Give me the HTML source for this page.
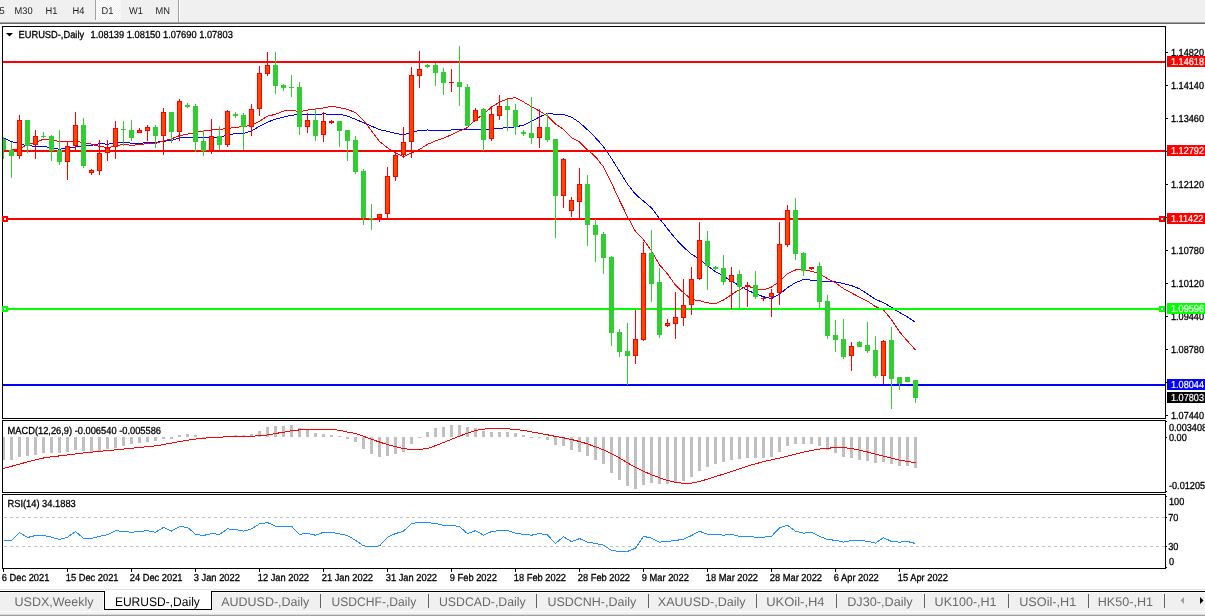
<!DOCTYPE html>
<html><head><meta charset="utf-8"><title>EURUSD-,Daily</title>
<style>
html,body{margin:0;padding:0;background:#fff;}
body{width:1205px;height:616px;overflow:hidden;}
svg{display:block;}
text{font-family:"Liberation Sans", Arial, sans-serif;white-space:pre;text-rendering:geometricPrecision;}
</style></head><body>
<svg width="1205" height="616" viewBox="0 0 1205 616">
<rect width="1205" height="616" fill="#fff"/>
<rect x="0" y="0" width="1205" height="22" fill="#f0f0f0" />
<rect x="0" y="22" width="1205" height="1" fill="#a0a0a0" />
<rect x="0" y="23" width="1205" height="1" fill="#696969" />
<rect x="96" y="0" width="25" height="20" fill="url(#chk)" />
<rect x="95" y="0" width="1" height="20" fill="#a0a0a0" />
<rect x="178" y="0" width="1" height="22" fill="#a0a0a0" />
<rect x="179" y="0" width="1" height="22" fill="#ffffff" />
<text x="-0.6" y="13.7" font-size="9.8" fill="#1e1e1e" textLength="5.17" lengthAdjust="spacingAndGlyphs" class="tb">5</text>
<text x="14.5" y="13.7" font-size="9.8" fill="#1e1e1e" textLength="18.09" lengthAdjust="spacingAndGlyphs" class="tb">M30</text>
<text x="45.5" y="13.7" font-size="9.8" fill="#1e1e1e" textLength="11.89" lengthAdjust="spacingAndGlyphs" class="tb">H1</text>
<text x="72.5" y="13.7" font-size="9.8" fill="#1e1e1e" textLength="11.89" lengthAdjust="spacingAndGlyphs" class="tb">H4</text>
<text x="101.5" y="13.7" font-size="9.8" fill="#1e1e1e" textLength="11.89" lengthAdjust="spacingAndGlyphs" class="tb">D1</text>
<text x="129" y="13.7" font-size="9.8" fill="#1e1e1e" textLength="13.95" lengthAdjust="spacingAndGlyphs" class="tb">W1</text>
<text x="155.5" y="13.7" font-size="9.8" fill="#1e1e1e" textLength="14.46" lengthAdjust="spacingAndGlyphs" class="tb">MN</text>
<rect x="2" y="26" width="1164" height="1" fill="#000" />
<rect x="2" y="418" width="1164" height="1" fill="#000" />
<rect x="2" y="26" width="1" height="393" fill="#000" />
<rect x="1165" y="26" width="1" height="393" fill="#000" />
<rect x="2" y="420" width="1164" height="1" fill="#000" />
<rect x="2" y="492" width="1164" height="1" fill="#000" />
<rect x="2" y="420" width="1" height="73" fill="#000" />
<rect x="1165" y="420" width="1" height="73" fill="#000" />
<rect x="2" y="494" width="1164" height="1" fill="#000" />
<rect x="2" y="568" width="1164" height="1" fill="#000" />
<rect x="2" y="494" width="1" height="75" fill="#000" />
<rect x="1165" y="494" width="1" height="75" fill="#000" />
<defs><pattern id="chk" width="2" height="2" patternUnits="userSpaceOnUse"><rect width="2" height="2" fill="#f0f0f0"/><rect width="1" height="1" fill="#fff"/><rect x="1" y="1" width="1" height="1" fill="#fff"/></pattern><clipPath id="cm"><rect x="3" y="27" width="1162" height="391"/></clipPath><clipPath id="cd"><rect x="3" y="421" width="1162" height="71"/></clipPath><clipPath id="cr"><rect x="3" y="495" width="1162" height="73"/></clipPath></defs>
<g clip-path="url(#cm)">
<polyline points="3.5,137.8 11.5,141.6 19.5,143.6 27.5,145.9 35.5,146.1 43.5,146.3 51.5,147.8 59.5,149.2 67.5,148.2 75.5,147.0 83.5,146.4 91.5,145.3 99.5,143.6 107.5,144.2 115.5,142.8 123.5,142.4 131.5,143.2 139.5,143.4 147.5,142.5 155.5,142.4 163.5,141.3 171.5,140.5 179.5,137.9 187.5,137.2 195.5,137.0 203.5,137.7 211.5,137.7 219.5,137.4 227.5,135.0 235.5,133.5 243.5,133.6 251.5,130.9 259.5,126.3 267.5,122.1 275.5,119.1 283.5,117.2 291.5,115.2 299.5,114.6 307.5,114.2 315.5,114.5 323.5,113.9 331.5,114.3 339.5,114.3 347.5,116.1 355.5,119.2 363.5,122.8 371.5,126.1 379.5,129.8 387.5,131.3 395.5,133.4 403.5,134.7 411.5,132.3 419.5,130.4 427.5,130.0 435.5,130.4 443.5,130.2 451.5,130.0 459.5,129.9 467.5,129.9 475.5,129.4 483.5,129.6 491.5,129.3 499.5,128.5 507.5,127.5 515.5,126.9 523.5,125.1 531.5,121.3 539.5,116.9 547.5,113.4 555.5,114.3 563.5,114.5 571.5,117.2 579.5,122.4 587.5,129.8 595.5,137.8 603.5,146.6 611.5,158.5 619.5,171.3 627.5,184.1 635.5,194.3 643.5,201.1 651.5,208.0 659.5,218.5 667.5,228.8 675.5,238.7 683.5,247.2 691.5,254.2 699.5,259.1 707.5,265.6 715.5,271.8 723.5,275.9 731.5,281.4 739.5,285.5 747.5,290.3 755.5,293.7 763.5,296.8 771.5,298.5 779.5,294.3 787.5,287.6 795.5,282.7 803.5,279.5 811.5,280.1 819.5,281.0 827.5,281.0 835.5,281.8 843.5,283.6 851.5,285.6 859.5,288.8 867.5,294.0 875.5,299.3 883.5,302.7 891.5,307.4 899.5,312.5 907.5,317.0 915.5,322.4" fill="none" stroke="#0000ff" stroke-width="1" shape-rendering="crispEdges"/>
<polyline points="3.5,150.0 11.5,150.0 19.5,149.0 27.5,144.5 35.5,142.4 43.5,139.2 51.5,139.9 59.5,141.4 67.5,141.4 75.5,141.4 83.5,142.4 91.5,144.2 99.5,146.4 107.5,147.6 115.5,146.1 123.5,144.2 131.5,145.4 139.5,144.4 147.5,143.7 155.5,143.6 163.5,140.9 171.5,138.8 179.5,135.6 187.5,134.2 195.5,132.5 203.5,131.1 211.5,129.9 219.5,129.6 227.5,128.4 235.5,127.4 243.5,126.6 251.5,125.1 259.5,121.2 267.5,116.2 275.5,114.3 283.5,111.1 291.5,110.1 299.5,111.6 307.5,110.1 315.5,109.0 323.5,107.9 331.5,106.3 339.5,107.6 347.5,109.4 355.5,112.6 363.5,120.4 371.5,130.7 379.5,141.4 387.5,147.9 395.5,152.7 403.5,156.6 411.5,153.0 419.5,149.4 427.5,144.4 435.5,140.9 443.5,138.1 451.5,134.7 459.5,130.9 467.5,127.6 475.5,119.9 483.5,114.3 491.5,107.1 499.5,102.1 507.5,98.9 515.5,97.7 523.5,101.9 531.5,106.7 539.5,111.1 547.5,115.9 555.5,123.9 563.5,129.4 571.5,137.6 579.5,141.8 587.5,149.9 595.5,156.7 603.5,166.9 611.5,183.1 619.5,200.4 627.5,216.7 635.5,231.4 643.5,239.7 651.5,250.9 659.5,264.8 667.5,273.9 675.5,285.2 683.5,292.7 691.5,299.5 699.5,300.6 707.5,302.9 715.5,303.6 723.5,300.0 731.5,294.6 739.5,289.6 747.5,285.8 755.5,288.9 763.5,289.9 771.5,287.0 779.5,281.4 787.5,273.7 795.5,270.0 803.5,269.4 811.5,271.3 819.5,273.9 827.5,278.6 835.5,282.8 843.5,288.6 851.5,292.9 859.5,297.2 867.5,301.1 875.5,306.6 883.5,310.0 891.5,319.6 899.5,331.9 907.5,341.1 915.5,350.1" fill="none" stroke="#ff0000" stroke-width="1" shape-rendering="crispEdges"/>
<rect x="3" y="61" width="1162" height="2" fill="#ff0000" />
<rect x="3" y="150" width="1162" height="2" fill="#ff0000" />
<rect x="3" y="218" width="1162" height="2" fill="#ff0000" />
<rect x="3" y="308" width="1162" height="2" fill="#00ff00" />
<rect x="3" y="384" width="1162" height="2" fill="#0000ff" />
<rect x="3" y="137" width="1" height="22" fill="#32cd32" />
<rect x="1" y="139" width="5" height="11" fill="#32cd32" />
<rect x="11" y="142" width="1" height="36" fill="#32cd32" />
<rect x="9" y="150" width="5" height="6" fill="#32cd32" />
<rect x="19" y="115" width="1" height="44" fill="#ff0000" />
<rect x="17" y="120" width="5" height="36" fill="#ff0000" />
<rect x="18" y="121" width="3" height="34" fill="#ff4500" />
<rect x="27" y="120" width="1" height="33" fill="#32cd32" />
<rect x="25" y="120" width="5" height="26" fill="#32cd32" />
<rect x="35" y="130" width="1" height="29" fill="#ff0000" />
<rect x="33" y="136" width="5" height="9" fill="#ff0000" />
<rect x="34" y="137" width="3" height="7" fill="#ff4500" />
<rect x="43" y="132" width="1" height="6" fill="#32cd32" />
<rect x="41" y="136" width="5" height="1" fill="#32cd32" />
<rect x="51" y="135" width="1" height="26" fill="#32cd32" />
<rect x="49" y="136" width="5" height="15" fill="#32cd32" />
<rect x="59" y="130" width="1" height="35" fill="#32cd32" />
<rect x="57" y="150" width="5" height="12" fill="#32cd32" />
<rect x="67" y="142" width="1" height="38" fill="#ff0000" />
<rect x="65" y="146" width="5" height="16" fill="#ff0000" />
<rect x="66" y="147" width="3" height="14" fill="#ff4500" />
<rect x="75" y="112" width="1" height="38" fill="#ff0000" />
<rect x="73" y="125" width="5" height="21" fill="#ff0000" />
<rect x="74" y="126" width="3" height="19" fill="#ff4500" />
<rect x="83" y="118" width="1" height="50" fill="#32cd32" />
<rect x="81" y="125" width="5" height="41" fill="#32cd32" />
<rect x="91" y="169" width="1" height="6" fill="#ff0000" />
<rect x="89" y="170" width="5" height="3" fill="#ff0000" />
<rect x="90" y="171" width="3" height="1" fill="#ff4500" />
<rect x="99" y="140" width="1" height="35" fill="#ff0000" />
<rect x="97" y="153" width="5" height="18" fill="#ff0000" />
<rect x="98" y="154" width="3" height="16" fill="#ff4500" />
<rect x="107" y="140" width="1" height="21" fill="#ff0000" />
<rect x="105" y="148" width="5" height="5" fill="#ff0000" />
<rect x="106" y="149" width="3" height="3" fill="#ff4500" />
<rect x="115" y="121" width="1" height="38" fill="#ff0000" />
<rect x="113" y="128" width="5" height="19" fill="#ff0000" />
<rect x="114" y="129" width="3" height="17" fill="#ff4500" />
<rect x="123" y="121" width="1" height="25" fill="#32cd32" />
<rect x="121" y="129" width="5" height="1" fill="#32cd32" />
<rect x="131" y="120" width="1" height="21" fill="#32cd32" />
<rect x="129" y="130" width="5" height="8" fill="#32cd32" />
<rect x="139" y="128" width="1" height="5" fill="#ff0000" />
<rect x="137" y="130" width="5" height="3" fill="#ff0000" />
<rect x="138" y="131" width="3" height="1" fill="#ff4500" />
<rect x="147" y="125" width="1" height="16" fill="#ff0000" />
<rect x="145" y="127" width="5" height="4" fill="#ff0000" />
<rect x="146" y="128" width="3" height="2" fill="#ff4500" />
<rect x="155" y="125" width="1" height="23" fill="#32cd32" />
<rect x="153" y="127" width="5" height="9" fill="#32cd32" />
<rect x="163" y="108" width="1" height="47" fill="#ff0000" />
<rect x="161" y="112" width="5" height="24" fill="#ff0000" />
<rect x="162" y="113" width="3" height="22" fill="#ff4500" />
<rect x="171" y="112" width="1" height="31" fill="#32cd32" />
<rect x="169" y="112" width="5" height="20" fill="#32cd32" />
<rect x="179" y="99" width="1" height="42" fill="#ff0000" />
<rect x="177" y="101" width="5" height="31" fill="#ff0000" />
<rect x="178" y="102" width="3" height="29" fill="#ff4500" />
<rect x="187" y="103" width="1" height="5" fill="#32cd32" />
<rect x="185" y="105" width="5" height="2" fill="#32cd32" />
<rect x="195" y="104" width="1" height="48" fill="#32cd32" />
<rect x="193" y="106" width="5" height="36" fill="#32cd32" />
<rect x="203" y="130" width="1" height="26" fill="#32cd32" />
<rect x="201" y="141" width="5" height="10" fill="#32cd32" />
<rect x="211" y="119" width="1" height="35" fill="#ff0000" />
<rect x="209" y="136" width="5" height="15" fill="#ff0000" />
<rect x="210" y="137" width="3" height="13" fill="#ff4500" />
<rect x="219" y="126" width="1" height="24" fill="#32cd32" />
<rect x="217" y="136" width="5" height="9" fill="#32cd32" />
<rect x="227" y="110" width="1" height="37" fill="#ff0000" />
<rect x="225" y="111" width="5" height="34" fill="#ff0000" />
<rect x="226" y="112" width="3" height="32" fill="#ff4500" />
<rect x="235" y="112" width="1" height="6" fill="#32cd32" />
<rect x="233" y="114" width="5" height="2" fill="#32cd32" />
<rect x="243" y="113" width="1" height="37" fill="#32cd32" />
<rect x="241" y="115" width="5" height="12" fill="#32cd32" />
<rect x="251" y="104" width="1" height="32" fill="#ff0000" />
<rect x="249" y="109" width="5" height="18" fill="#ff0000" />
<rect x="250" y="110" width="3" height="16" fill="#ff4500" />
<rect x="259" y="66" width="1" height="50" fill="#ff0000" />
<rect x="257" y="73" width="5" height="36" fill="#ff0000" />
<rect x="258" y="74" width="3" height="34" fill="#ff4500" />
<rect x="267" y="52" width="1" height="24" fill="#ff0000" />
<rect x="265" y="65" width="5" height="9" fill="#ff0000" />
<rect x="266" y="66" width="3" height="7" fill="#ff4500" />
<rect x="275" y="52" width="1" height="42" fill="#32cd32" />
<rect x="273" y="65" width="5" height="21" fill="#32cd32" />
<rect x="283" y="84" width="1" height="7" fill="#32cd32" />
<rect x="281" y="85" width="5" height="3" fill="#32cd32" />
<rect x="291" y="75" width="1" height="22" fill="#32cd32" />
<rect x="289" y="87" width="5" height="1" fill="#32cd32" />
<rect x="299" y="82" width="1" height="53" fill="#32cd32" />
<rect x="297" y="87" width="5" height="40" fill="#32cd32" />
<rect x="307" y="113" width="1" height="20" fill="#ff0000" />
<rect x="305" y="120" width="5" height="7" fill="#ff0000" />
<rect x="306" y="121" width="3" height="5" fill="#ff4500" />
<rect x="315" y="108" width="1" height="33" fill="#32cd32" />
<rect x="313" y="120" width="5" height="16" fill="#32cd32" />
<rect x="323" y="112" width="1" height="30" fill="#ff0000" />
<rect x="321" y="121" width="5" height="14" fill="#ff0000" />
<rect x="322" y="122" width="3" height="12" fill="#ff4500" />
<rect x="331" y="120" width="1" height="4" fill="#ff0000" />
<rect x="329" y="121" width="5" height="2" fill="#ff0000" />
<rect x="339" y="121" width="1" height="26" fill="#32cd32" />
<rect x="337" y="121" width="5" height="10" fill="#32cd32" />
<rect x="347" y="130" width="1" height="31" fill="#32cd32" />
<rect x="345" y="130" width="5" height="11" fill="#32cd32" />
<rect x="355" y="136" width="1" height="38" fill="#32cd32" />
<rect x="353" y="140" width="5" height="32" fill="#32cd32" />
<rect x="363" y="169" width="1" height="56" fill="#32cd32" />
<rect x="361" y="171" width="5" height="47" fill="#32cd32" />
<rect x="371" y="204" width="1" height="26" fill="#32cd32" />
<rect x="369" y="218" width="5" height="1" fill="#32cd32" />
<rect x="379" y="214" width="1" height="8" fill="#ff0000" />
<rect x="377" y="214" width="5" height="4" fill="#ff0000" />
<rect x="378" y="215" width="3" height="2" fill="#ff4500" />
<rect x="387" y="167" width="1" height="51" fill="#ff0000" />
<rect x="385" y="176" width="5" height="38" fill="#ff0000" />
<rect x="386" y="177" width="3" height="36" fill="#ff4500" />
<rect x="395" y="150" width="1" height="31" fill="#ff0000" />
<rect x="393" y="155" width="5" height="22" fill="#ff0000" />
<rect x="394" y="156" width="3" height="20" fill="#ff4500" />
<rect x="403" y="127" width="1" height="31" fill="#ff0000" />
<rect x="401" y="142" width="5" height="13" fill="#ff0000" />
<rect x="402" y="143" width="3" height="11" fill="#ff4500" />
<rect x="411" y="67" width="1" height="91" fill="#ff0000" />
<rect x="409" y="75" width="5" height="67" fill="#ff0000" />
<rect x="410" y="76" width="3" height="65" fill="#ff4500" />
<rect x="419" y="51" width="1" height="37" fill="#ff0000" />
<rect x="417" y="69" width="5" height="7" fill="#ff0000" />
<rect x="418" y="70" width="3" height="5" fill="#ff4500" />
<rect x="427" y="64" width="1" height="4" fill="#32cd32" />
<rect x="425" y="65" width="5" height="2" fill="#32cd32" />
<rect x="435" y="63" width="1" height="23" fill="#32cd32" />
<rect x="433" y="65" width="5" height="8" fill="#32cd32" />
<rect x="443" y="68" width="1" height="27" fill="#32cd32" />
<rect x="441" y="72" width="5" height="11" fill="#32cd32" />
<rect x="451" y="69" width="1" height="23" fill="#ff0000" />
<rect x="449" y="82" width="5" height="1" fill="#ff0000" />
<rect x="459" y="46" width="1" height="60" fill="#32cd32" />
<rect x="457" y="82" width="5" height="5" fill="#32cd32" />
<rect x="467" y="84" width="1" height="42" fill="#32cd32" />
<rect x="465" y="87" width="5" height="39" fill="#32cd32" />
<rect x="475" y="108" width="1" height="13" fill="#ff0000" />
<rect x="473" y="110" width="5" height="11" fill="#ff0000" />
<rect x="474" y="111" width="3" height="9" fill="#ff4500" />
<rect x="483" y="108" width="1" height="43" fill="#32cd32" />
<rect x="481" y="109" width="5" height="31" fill="#32cd32" />
<rect x="491" y="107" width="1" height="34" fill="#ff0000" />
<rect x="489" y="114" width="5" height="25" fill="#ff0000" />
<rect x="490" y="115" width="3" height="23" fill="#ff4500" />
<rect x="499" y="95" width="1" height="25" fill="#ff0000" />
<rect x="497" y="106" width="5" height="10" fill="#ff0000" />
<rect x="498" y="107" width="3" height="8" fill="#ff4500" />
<rect x="507" y="99" width="1" height="32" fill="#32cd32" />
<rect x="505" y="106" width="5" height="4" fill="#32cd32" />
<rect x="515" y="104" width="1" height="31" fill="#32cd32" />
<rect x="513" y="110" width="5" height="17" fill="#32cd32" />
<rect x="523" y="130" width="1" height="6" fill="#32cd32" />
<rect x="521" y="132" width="5" height="2" fill="#32cd32" />
<rect x="531" y="97" width="1" height="47" fill="#32cd32" />
<rect x="529" y="133" width="5" height="5" fill="#32cd32" />
<rect x="539" y="109" width="1" height="39" fill="#ff0000" />
<rect x="537" y="127" width="5" height="11" fill="#ff0000" />
<rect x="538" y="128" width="3" height="9" fill="#ff4500" />
<rect x="547" y="113" width="1" height="29" fill="#32cd32" />
<rect x="545" y="127" width="5" height="13" fill="#32cd32" />
<rect x="555" y="139" width="1" height="99" fill="#32cd32" />
<rect x="553" y="139" width="5" height="57" fill="#32cd32" />
<rect x="563" y="158" width="1" height="50" fill="#ff0000" />
<rect x="561" y="159" width="5" height="37" fill="#ff0000" />
<rect x="562" y="160" width="3" height="35" fill="#ff4500" />
<rect x="571" y="197" width="1" height="20" fill="#ff0000" />
<rect x="569" y="200" width="5" height="11" fill="#ff0000" />
<rect x="570" y="201" width="3" height="9" fill="#ff4500" />
<rect x="579" y="168" width="1" height="50" fill="#ff0000" />
<rect x="577" y="184" width="5" height="18" fill="#ff0000" />
<rect x="578" y="185" width="3" height="16" fill="#ff4500" />
<rect x="587" y="175" width="1" height="71" fill="#32cd32" />
<rect x="585" y="184" width="5" height="41" fill="#32cd32" />
<rect x="595" y="219" width="1" height="43" fill="#32cd32" />
<rect x="593" y="225" width="5" height="10" fill="#32cd32" />
<rect x="603" y="232" width="1" height="42" fill="#32cd32" />
<rect x="601" y="234" width="5" height="24" fill="#32cd32" />
<rect x="611" y="256" width="1" height="90" fill="#32cd32" />
<rect x="609" y="257" width="5" height="76" fill="#32cd32" />
<rect x="619" y="329" width="1" height="28" fill="#32cd32" />
<rect x="617" y="332" width="5" height="20" fill="#32cd32" />
<rect x="627" y="323" width="1" height="62" fill="#32cd32" />
<rect x="625" y="351" width="5" height="5" fill="#32cd32" />
<rect x="635" y="310" width="1" height="54" fill="#ff0000" />
<rect x="633" y="339" width="5" height="17" fill="#ff0000" />
<rect x="634" y="340" width="3" height="15" fill="#ff4500" />
<rect x="643" y="242" width="1" height="99" fill="#ff0000" />
<rect x="641" y="253" width="5" height="87" fill="#ff0000" />
<rect x="642" y="254" width="3" height="85" fill="#ff4500" />
<rect x="651" y="230" width="1" height="72" fill="#32cd32" />
<rect x="649" y="253" width="5" height="31" fill="#32cd32" />
<rect x="659" y="268" width="1" height="70" fill="#32cd32" />
<rect x="657" y="282" width="5" height="53" fill="#32cd32" />
<rect x="667" y="319" width="1" height="8" fill="#ff0000" />
<rect x="665" y="323" width="5" height="3" fill="#ff0000" />
<rect x="666" y="324" width="3" height="1" fill="#ff4500" />
<rect x="675" y="292" width="1" height="47" fill="#ff0000" />
<rect x="673" y="317" width="5" height="7" fill="#ff0000" />
<rect x="674" y="318" width="3" height="5" fill="#ff4500" />
<rect x="683" y="279" width="1" height="47" fill="#ff0000" />
<rect x="681" y="305" width="5" height="13" fill="#ff0000" />
<rect x="682" y="306" width="3" height="11" fill="#ff4500" />
<rect x="691" y="267" width="1" height="48" fill="#ff0000" />
<rect x="689" y="279" width="5" height="26" fill="#ff0000" />
<rect x="690" y="280" width="3" height="24" fill="#ff4500" />
<rect x="699" y="222" width="1" height="58" fill="#ff0000" />
<rect x="697" y="240" width="5" height="39" fill="#ff0000" />
<rect x="698" y="241" width="3" height="37" fill="#ff4500" />
<rect x="707" y="231" width="1" height="59" fill="#32cd32" />
<rect x="705" y="241" width="5" height="25" fill="#32cd32" />
<rect x="715" y="266" width="1" height="4" fill="#32cd32" />
<rect x="713" y="267" width="5" height="2" fill="#32cd32" />
<rect x="723" y="255" width="1" height="30" fill="#32cd32" />
<rect x="721" y="268" width="5" height="14" fill="#32cd32" />
<rect x="731" y="267" width="1" height="42" fill="#ff0000" />
<rect x="729" y="275" width="5" height="7" fill="#ff0000" />
<rect x="730" y="276" width="3" height="5" fill="#ff4500" />
<rect x="739" y="270" width="1" height="38" fill="#32cd32" />
<rect x="737" y="274" width="5" height="13" fill="#32cd32" />
<rect x="747" y="282" width="1" height="25" fill="#ff0000" />
<rect x="745" y="285" width="5" height="1" fill="#ff0000" />
<rect x="755" y="271" width="1" height="28" fill="#32cd32" />
<rect x="753" y="285" width="5" height="12" fill="#32cd32" />
<rect x="763" y="297" width="1" height="4" fill="#ff0000" />
<rect x="761" y="298" width="5" height="1" fill="#ff0000" />
<rect x="771" y="289" width="1" height="28" fill="#ff0000" />
<rect x="769" y="293" width="5" height="4" fill="#ff0000" />
<rect x="770" y="294" width="3" height="2" fill="#ff4500" />
<rect x="779" y="222" width="1" height="83" fill="#ff0000" />
<rect x="777" y="244" width="5" height="49" fill="#ff0000" />
<rect x="778" y="245" width="3" height="47" fill="#ff4500" />
<rect x="787" y="205" width="1" height="42" fill="#ff0000" />
<rect x="785" y="210" width="5" height="35" fill="#ff0000" />
<rect x="786" y="211" width="3" height="33" fill="#ff4500" />
<rect x="795" y="198" width="1" height="62" fill="#32cd32" />
<rect x="793" y="210" width="5" height="44" fill="#32cd32" />
<rect x="803" y="252" width="1" height="24" fill="#32cd32" />
<rect x="801" y="253" width="5" height="18" fill="#32cd32" />
<rect x="811" y="267" width="1" height="3" fill="#ff0000" />
<rect x="809" y="267" width="5" height="2" fill="#ff0000" />
<rect x="819" y="262" width="1" height="46" fill="#32cd32" />
<rect x="817" y="266" width="5" height="36" fill="#32cd32" />
<rect x="827" y="295" width="1" height="44" fill="#32cd32" />
<rect x="825" y="301" width="5" height="35" fill="#32cd32" />
<rect x="835" y="320" width="1" height="32" fill="#32cd32" />
<rect x="833" y="335" width="5" height="5" fill="#32cd32" />
<rect x="843" y="319" width="1" height="40" fill="#32cd32" />
<rect x="841" y="339" width="5" height="18" fill="#32cd32" />
<rect x="851" y="342" width="1" height="29" fill="#ff0000" />
<rect x="849" y="346" width="5" height="10" fill="#ff0000" />
<rect x="850" y="347" width="3" height="8" fill="#ff4500" />
<rect x="859" y="341" width="1" height="6" fill="#32cd32" />
<rect x="857" y="342" width="5" height="5" fill="#32cd32" />
<rect x="867" y="322" width="1" height="31" fill="#32cd32" />
<rect x="865" y="345" width="5" height="6" fill="#32cd32" />
<rect x="875" y="336" width="1" height="42" fill="#32cd32" />
<rect x="873" y="350" width="5" height="26" fill="#32cd32" />
<rect x="883" y="340" width="1" height="44" fill="#ff0000" />
<rect x="881" y="341" width="5" height="35" fill="#ff0000" />
<rect x="882" y="342" width="3" height="33" fill="#ff4500" />
<rect x="891" y="327" width="1" height="82" fill="#32cd32" />
<rect x="889" y="340" width="5" height="39" fill="#32cd32" />
<rect x="899" y="377" width="1" height="13" fill="#32cd32" />
<rect x="897" y="377" width="5" height="7" fill="#32cd32" />
<rect x="907" y="377" width="1" height="5" fill="#32cd32" />
<rect x="905" y="377" width="5" height="5" fill="#32cd32" />
<rect x="915" y="380" width="1" height="23" fill="#32cd32" />
<rect x="913" y="380" width="5" height="18" fill="#32cd32" />
</g>
<rect x="2" y="216" width="6" height="6" fill="#ff0000" />
<rect x="4" y="218" width="2" height="2" fill="#fff" />
<rect x="1159" y="216" width="6" height="6" fill="#ff0000" />
<rect x="1161" y="218" width="2" height="2" fill="#fff" />
<rect x="2" y="306" width="6" height="6" fill="#00ff00" />
<rect x="4" y="308" width="2" height="2" fill="#fff" />
<rect x="1159" y="306" width="6" height="6" fill="#00ff00" />
<rect x="1161" y="308" width="2" height="2" fill="#fff" />
<polygon points="6,33 13,33 9.5,36.5" fill="#000"/>
<text x="18.5" y="38" font-size="10.2" fill="#000" textLength="65.62" lengthAdjust="spacingAndGlyphs" stroke="#000" stroke-width="0.3" class="ch">EURUSD-,Daily</text>
<text x="90.6" y="38" font-size="10.2" fill="#000" textLength="142.21" lengthAdjust="spacingAndGlyphs" stroke="#000" stroke-width="0.3" class="ch">1.08139 1.08150 1.07690 1.07803</text>
<rect x="1166" y="52" width="2" height="1" fill="#000" />
<text x="1171" y="56" font-size="10.2" fill="#000" textLength="33.01" lengthAdjust="spacingAndGlyphs" stroke="#000" stroke-width="0.3" class="ch">1.14820</text>
<rect x="1166" y="85" width="2" height="1" fill="#000" />
<text x="1171" y="89" font-size="10.2" fill="#000" textLength="33.01" lengthAdjust="spacingAndGlyphs" stroke="#000" stroke-width="0.3" class="ch">1.14140</text>
<rect x="1166" y="118" width="2" height="1" fill="#000" />
<text x="1171" y="122" font-size="10.2" fill="#000" textLength="33.01" lengthAdjust="spacingAndGlyphs" stroke="#000" stroke-width="0.3" class="ch">1.13460</text>
<rect x="1166" y="151" width="2" height="1" fill="#000" />
<rect x="1166" y="184" width="2" height="1" fill="#000" />
<text x="1171" y="188" font-size="10.2" fill="#000" textLength="33.01" lengthAdjust="spacingAndGlyphs" stroke="#000" stroke-width="0.3" class="ch">1.12120</text>
<rect x="1166" y="217" width="2" height="1" fill="#000" />
<rect x="1166" y="250" width="2" height="1" fill="#000" />
<text x="1171" y="254" font-size="10.2" fill="#000" textLength="33.01" lengthAdjust="spacingAndGlyphs" stroke="#000" stroke-width="0.3" class="ch">1.10780</text>
<rect x="1166" y="283" width="2" height="1" fill="#000" />
<text x="1171" y="287" font-size="10.2" fill="#000" textLength="33.01" lengthAdjust="spacingAndGlyphs" stroke="#000" stroke-width="0.3" class="ch">1.10120</text>
<rect x="1166" y="316" width="2" height="1" fill="#000" />
<text x="1171" y="320" font-size="10.2" fill="#000" textLength="33.01" lengthAdjust="spacingAndGlyphs" stroke="#000" stroke-width="0.3" class="ch">1.09440</text>
<rect x="1166" y="349" width="2" height="1" fill="#000" />
<text x="1171" y="353" font-size="10.2" fill="#000" textLength="33.01" lengthAdjust="spacingAndGlyphs" stroke="#000" stroke-width="0.3" class="ch">1.08780</text>
<rect x="1166" y="382" width="2" height="1" fill="#000" />
<rect x="1166" y="415" width="2" height="1" fill="#000" />
<text x="1171" y="419" font-size="10.2" fill="#000" textLength="33.01" lengthAdjust="spacingAndGlyphs" stroke="#000" stroke-width="0.3" class="ch">1.07440</text>
<rect x="1167" y="56" width="38" height="11" fill="#ff0000" />
<text x="1171" y="65" font-size="10.2" fill="#fff" textLength="33.01" lengthAdjust="spacingAndGlyphs" stroke="#fff" stroke-width="0.2" class="ch">1.14618</text>
<rect x="1167" y="145" width="38" height="11" fill="#ff0000" />
<text x="1171" y="154" font-size="10.2" fill="#fff" textLength="33.01" lengthAdjust="spacingAndGlyphs" stroke="#fff" stroke-width="0.2" class="ch">1.12792</text>
<rect x="1167" y="213" width="38" height="11" fill="#ff0000" />
<text x="1171" y="222" font-size="10.2" fill="#fff" textLength="32.34" lengthAdjust="spacingAndGlyphs" stroke="#fff" stroke-width="0.2" class="ch">1.11422</text>
<rect x="1167" y="303" width="38" height="11" fill="#00ff00" />
<text x="1171" y="312" font-size="10.2" fill="#fff" textLength="33.01" lengthAdjust="spacingAndGlyphs" stroke="#fff" stroke-width="0.2" class="ch">1.09596</text>
<rect x="1167" y="379" width="38" height="11" fill="#0000ff" />
<text x="1171" y="388" font-size="10.2" fill="#fff" textLength="33.01" lengthAdjust="spacingAndGlyphs" stroke="#fff" stroke-width="0.2" class="ch">1.08044</text>
<rect x="1167" y="392" width="38" height="11" fill="#000000" />
<text x="1171" y="401" font-size="10.2" fill="#fff" textLength="33.01" lengthAdjust="spacingAndGlyphs" stroke="#fff" stroke-width="0.2" class="ch">1.07803</text>
<g clip-path="url(#cd)">
<rect x="2" y="437" width="3" height="23" fill="#c0c0c0" />
<rect x="10" y="437" width="3" height="23" fill="#c0c0c0" />
<rect x="18" y="437" width="3" height="20" fill="#c0c0c0" />
<rect x="26" y="437" width="3" height="19" fill="#c0c0c0" />
<rect x="34" y="437" width="3" height="18" fill="#c0c0c0" />
<rect x="42" y="437" width="3" height="16" fill="#c0c0c0" />
<rect x="50" y="437" width="3" height="16" fill="#c0c0c0" />
<rect x="58" y="437" width="3" height="16" fill="#c0c0c0" />
<rect x="66" y="437" width="3" height="15" fill="#c0c0c0" />
<rect x="74" y="437" width="3" height="13" fill="#c0c0c0" />
<rect x="82" y="437" width="3" height="14" fill="#c0c0c0" />
<rect x="90" y="437" width="3" height="15" fill="#c0c0c0" />
<rect x="98" y="437" width="3" height="14" fill="#c0c0c0" />
<rect x="106" y="437" width="3" height="12" fill="#c0c0c0" />
<rect x="114" y="437" width="3" height="11" fill="#c0c0c0" />
<rect x="122" y="437" width="3" height="9" fill="#c0c0c0" />
<rect x="130" y="437" width="3" height="7" fill="#c0c0c0" />
<rect x="138" y="437" width="3" height="6" fill="#c0c0c0" />
<rect x="146" y="437" width="3" height="5" fill="#c0c0c0" />
<rect x="154" y="437" width="3" height="4" fill="#c0c0c0" />
<rect x="162" y="437" width="3" height="2" fill="#c0c0c0" />
<rect x="170" y="437" width="3" height="2" fill="#c0c0c0" />
<rect x="178" y="435" width="3" height="2" fill="#c0c0c0" />
<rect x="186" y="434" width="3" height="3" fill="#c0c0c0" />
<rect x="194" y="435" width="3" height="2" fill="#c0c0c0" />
<rect x="202" y="437" width="3" height="1" fill="#c0c0c0" />
<rect x="210" y="437" width="3" height="1" fill="#c0c0c0" />
<rect x="218" y="437" width="3" height="1" fill="#c0c0c0" />
<rect x="226" y="436" width="3" height="1" fill="#c0c0c0" />
<rect x="234" y="435" width="3" height="2" fill="#c0c0c0" />
<rect x="242" y="435" width="3" height="2" fill="#c0c0c0" />
<rect x="250" y="434" width="3" height="3" fill="#c0c0c0" />
<rect x="258" y="431" width="3" height="6" fill="#c0c0c0" />
<rect x="266" y="427" width="3" height="10" fill="#c0c0c0" />
<rect x="274" y="426" width="3" height="11" fill="#c0c0c0" />
<rect x="282" y="426" width="3" height="11" fill="#c0c0c0" />
<rect x="290" y="425" width="3" height="12" fill="#c0c0c0" />
<rect x="298" y="428" width="3" height="9" fill="#c0c0c0" />
<rect x="306" y="430" width="3" height="7" fill="#c0c0c0" />
<rect x="314" y="433" width="3" height="4" fill="#c0c0c0" />
<rect x="322" y="434" width="3" height="3" fill="#c0c0c0" />
<rect x="330" y="435" width="3" height="2" fill="#c0c0c0" />
<rect x="338" y="436" width="3" height="1" fill="#c0c0c0" />
<rect x="346" y="437" width="3" height="2" fill="#c0c0c0" />
<rect x="354" y="437" width="3" height="5" fill="#c0c0c0" />
<rect x="362" y="437" width="3" height="12" fill="#c0c0c0" />
<rect x="370" y="437" width="3" height="17" fill="#c0c0c0" />
<rect x="378" y="437" width="3" height="20" fill="#c0c0c0" />
<rect x="386" y="437" width="3" height="19" fill="#c0c0c0" />
<rect x="394" y="437" width="3" height="17" fill="#c0c0c0" />
<rect x="402" y="437" width="3" height="15" fill="#c0c0c0" />
<rect x="410" y="437" width="3" height="7" fill="#c0c0c0" />
<rect x="418" y="437" width="3" height="1" fill="#c0c0c0" />
<rect x="426" y="432" width="3" height="5" fill="#c0c0c0" />
<rect x="434" y="428" width="3" height="9" fill="#c0c0c0" />
<rect x="442" y="427" width="3" height="10" fill="#c0c0c0" />
<rect x="450" y="425" width="3" height="12" fill="#c0c0c0" />
<rect x="458" y="425" width="3" height="12" fill="#c0c0c0" />
<rect x="466" y="427" width="3" height="10" fill="#c0c0c0" />
<rect x="474" y="428" width="3" height="9" fill="#c0c0c0" />
<rect x="482" y="431" width="3" height="6" fill="#c0c0c0" />
<rect x="490" y="432" width="3" height="5" fill="#c0c0c0" />
<rect x="498" y="432" width="3" height="5" fill="#c0c0c0" />
<rect x="506" y="432" width="3" height="5" fill="#c0c0c0" />
<rect x="514" y="433" width="3" height="4" fill="#c0c0c0" />
<rect x="522" y="435" width="3" height="2" fill="#c0c0c0" />
<rect x="530" y="437" width="3" height="1" fill="#c0c0c0" />
<rect x="538" y="437" width="3" height="1" fill="#c0c0c0" />
<rect x="546" y="437" width="3" height="3" fill="#c0c0c0" />
<rect x="554" y="437" width="3" height="8" fill="#c0c0c0" />
<rect x="562" y="437" width="3" height="9" fill="#c0c0c0" />
<rect x="570" y="437" width="3" height="13" fill="#c0c0c0" />
<rect x="578" y="437" width="3" height="15" fill="#c0c0c0" />
<rect x="586" y="437" width="3" height="19" fill="#c0c0c0" />
<rect x="594" y="437" width="3" height="23" fill="#c0c0c0" />
<rect x="602" y="437" width="3" height="27" fill="#c0c0c0" />
<rect x="610" y="437" width="3" height="36" fill="#c0c0c0" />
<rect x="618" y="437" width="3" height="43" fill="#c0c0c0" />
<rect x="626" y="437" width="3" height="49" fill="#c0c0c0" />
<rect x="634" y="437" width="3" height="52" fill="#c0c0c0" />
<rect x="642" y="437" width="3" height="48" fill="#c0c0c0" />
<rect x="650" y="437" width="3" height="46" fill="#c0c0c0" />
<rect x="658" y="437" width="3" height="47" fill="#c0c0c0" />
<rect x="666" y="437" width="3" height="47" fill="#c0c0c0" />
<rect x="674" y="437" width="3" height="45" fill="#c0c0c0" />
<rect x="682" y="437" width="3" height="44" fill="#c0c0c0" />
<rect x="690" y="437" width="3" height="40" fill="#c0c0c0" />
<rect x="698" y="437" width="3" height="34" fill="#c0c0c0" />
<rect x="706" y="437" width="3" height="30" fill="#c0c0c0" />
<rect x="714" y="437" width="3" height="27" fill="#c0c0c0" />
<rect x="722" y="437" width="3" height="25" fill="#c0c0c0" />
<rect x="730" y="437" width="3" height="23" fill="#c0c0c0" />
<rect x="738" y="437" width="3" height="22" fill="#c0c0c0" />
<rect x="746" y="437" width="3" height="21" fill="#c0c0c0" />
<rect x="754" y="437" width="3" height="21" fill="#c0c0c0" />
<rect x="762" y="437" width="3" height="21" fill="#c0c0c0" />
<rect x="770" y="437" width="3" height="20" fill="#c0c0c0" />
<rect x="778" y="437" width="3" height="15" fill="#c0c0c0" />
<rect x="786" y="437" width="3" height="9" fill="#c0c0c0" />
<rect x="794" y="437" width="3" height="7" fill="#c0c0c0" />
<rect x="802" y="437" width="3" height="7" fill="#c0c0c0" />
<rect x="810" y="437" width="3" height="7" fill="#c0c0c0" />
<rect x="818" y="437" width="3" height="9" fill="#c0c0c0" />
<rect x="826" y="437" width="3" height="13" fill="#c0c0c0" />
<rect x="834" y="437" width="3" height="16" fill="#c0c0c0" />
<rect x="842" y="437" width="3" height="20" fill="#c0c0c0" />
<rect x="850" y="437" width="3" height="21" fill="#c0c0c0" />
<rect x="858" y="437" width="3" height="23" fill="#c0c0c0" />
<rect x="866" y="437" width="3" height="24" fill="#c0c0c0" />
<rect x="874" y="437" width="3" height="26" fill="#c0c0c0" />
<rect x="882" y="437" width="3" height="25" fill="#c0c0c0" />
<rect x="890" y="437" width="3" height="27" fill="#c0c0c0" />
<rect x="898" y="437" width="3" height="29" fill="#c0c0c0" />
<rect x="906" y="437" width="3" height="29" fill="#c0c0c0" />
<rect x="914" y="437" width="3" height="31" fill="#c0c0c0" />
<polyline points="3.5,468.5 11.5,466.3 19.5,464.1 27.5,461.9 35.5,459.8 43.5,458.0 51.5,456.8 59.5,455.9 67.5,455.0 75.5,453.9 83.5,452.9 91.5,452.1 99.5,451.4 107.5,450.6 115.5,449.9 123.5,449.1 131.5,448.3 139.5,447.5 147.5,446.7 155.5,445.9 163.5,444.5 171.5,443.1 179.5,441.6 187.5,440.3 195.5,439.1 203.5,438.2 211.5,437.5 219.5,437.2 227.5,436.8 235.5,436.5 243.5,436.2 251.5,436.1 259.5,435.9 267.5,435.0 275.5,433.5 283.5,432.2 291.5,430.8 299.5,429.9 307.5,429.3 315.5,429.2 323.5,429.1 331.5,429.3 339.5,430.3 347.5,432.1 355.5,433.4 363.5,436.2 371.5,439.3 379.5,442.0 387.5,444.6 395.5,446.6 403.5,448.6 411.5,449.6 419.5,449.5 427.5,448.4 435.5,445.7 443.5,442.5 451.5,439.3 459.5,436.1 467.5,433.1 475.5,430.4 483.5,429.1 491.5,428.5 499.5,428.5 507.5,428.8 515.5,429.4 523.5,430.4 531.5,431.9 539.5,433.3 547.5,434.8 555.5,436.4 563.5,437.8 571.5,439.5 579.5,441.5 587.5,443.9 595.5,446.8 603.5,449.8 611.5,453.6 619.5,458.0 627.5,462.8 635.5,467.4 643.5,471.3 651.5,474.7 659.5,477.7 667.5,480.5 675.5,482.3 683.5,483.3 691.5,483.2 699.5,481.5 707.5,479.1 715.5,476.6 723.5,474.1 731.5,471.5 739.5,468.7 747.5,466.1 755.5,463.8 763.5,461.7 771.5,459.8 779.5,458.1 787.5,456.1 795.5,454.1 803.5,452.2 811.5,450.4 819.5,449.1 827.5,448.2 835.5,447.7 843.5,447.7 851.5,448.4 859.5,450.1 867.5,452.0 875.5,454.2 883.5,456.2 891.5,458.2 899.5,460.1 907.5,461.5 915.5,462.7" fill="none" stroke="#ff0000" stroke-width="1" shape-rendering="crispEdges"/>
</g>
<text x="7.5" y="434" font-size="10.2" fill="#000" textLength="153.53" lengthAdjust="spacingAndGlyphs" stroke="#000" stroke-width="0.3" class="ch">MACD(12,26,9) -0.006540 -0.005586</text>
<rect x="1166" y="421" width="1" height="1" fill="#000" />
<text x="1169" y="431" font-size="10.2" fill="#000" textLength="38.09" lengthAdjust="spacingAndGlyphs" stroke="#000" stroke-width="0.3" class="ch">0.003408</text>
<rect x="1166" y="437" width="1" height="1" fill="#000" />
<text x="1169" y="441" font-size="10.2" fill="#000" textLength="17.78" lengthAdjust="spacingAndGlyphs" stroke="#000" stroke-width="0.3" class="ch">0.00</text>
<rect x="1166" y="491" width="1" height="1" fill="#000" />
<text x="1169" y="489" font-size="10.2" fill="#000" textLength="36.05" lengthAdjust="spacingAndGlyphs" stroke="#000" stroke-width="0.3" class="ch">-0.01205</text>
<g clip-path="url(#cr)">
<line x1="4" y1="517.5" x2="1165" y2="517.5" stroke="#c0c0c0" stroke-width="1" stroke-dasharray="3,3" shape-rendering="crispEdges"/>
<line x1="4" y1="546.5" x2="1165" y2="546.5" stroke="#c0c0c0" stroke-width="1" stroke-dasharray="3,3" shape-rendering="crispEdges"/>
<polyline points="3.5,540.5 11.5,540.5 19.5,532.6 27.5,537.5 35.5,535.5 43.5,535.5 51.5,537.2 59.5,539.5 67.5,537.2 75.5,531.5 83.5,538.3 91.5,538.3 99.5,536.3 107.5,534.6 115.5,530.6 123.5,531.5 131.5,532.3 139.5,531.5 147.5,530.6 155.5,532.3 163.5,527.3 171.5,531.0 179.5,526.6 187.5,527.3 195.5,534.2 203.5,535.5 211.5,533.6 219.5,534.3 227.5,528.9 235.5,529.5 243.5,531.2 251.5,528.9 259.5,523.9 267.5,522.6 275.5,526.2 283.5,526.2 291.5,526.2 299.5,534.3 307.5,533.5 315.5,535.2 323.5,532.3 331.5,532.3 339.5,533.9 347.5,535.5 355.5,540.3 363.5,545.9 371.5,546.5 379.5,545.9 387.5,537.2 395.5,533.6 403.5,531.2 411.5,523.3 419.5,522.6 427.5,522.6 435.5,523.5 443.5,525.3 451.5,525.3 459.5,526.6 467.5,533.6 475.5,530.6 483.5,535.2 491.5,531.5 499.5,530.6 507.5,530.6 515.5,533.2 523.5,534.3 531.5,535.2 539.5,533.6 547.5,535.0 555.5,543.5 563.5,536.8 571.5,541.6 579.5,538.6 587.5,542.1 595.5,543.5 603.5,545.2 611.5,550.5 619.5,551.4 627.5,551.4 635.5,548.2 643.5,536.3 651.5,538.2 659.5,542.1 667.5,541.5 675.5,540.5 683.5,539.2 691.5,535.5 699.5,531.2 707.5,534.3 715.5,534.3 723.5,535.2 731.5,534.3 739.5,536.3 747.5,536.3 755.5,537.2 763.5,537.2 771.5,536.3 779.5,527.9 787.5,525.3 795.5,531.2 803.5,533.2 811.5,532.3 819.5,536.3 827.5,539.5 835.5,540.3 843.5,542.1 851.5,540.5 859.5,540.5 867.5,541.2 875.5,543.2 883.5,537.6 891.5,541.5 899.5,542.1 907.5,541.5 915.5,543.5" fill="none" stroke="#1e90ff" stroke-width="1" shape-rendering="crispEdges"/>
</g>
<text x="7.5" y="507" font-size="10.2" fill="#000" textLength="68.24" lengthAdjust="spacingAndGlyphs" stroke="#000" stroke-width="0.3" class="ch">RSI(14) 34.1883</text>
<rect x="1166" y="496" width="1" height="1" fill="#000" />
<text x="1169" y="505" font-size="10.2" fill="#000" textLength="15.24" lengthAdjust="spacingAndGlyphs" stroke="#000" stroke-width="0.3" class="ch">100</text>
<rect x="1166" y="517" width="1" height="1" fill="#000" />
<text x="1168.2" y="521" font-size="10.2" fill="#000" textLength="10.16" lengthAdjust="spacingAndGlyphs" stroke="#000" stroke-width="0.3" class="ch">70</text>
<rect x="1166" y="546" width="1" height="1" fill="#000" />
<text x="1168.2" y="550" font-size="10.2" fill="#000" textLength="10.16" lengthAdjust="spacingAndGlyphs" stroke="#000" stroke-width="0.3" class="ch">30</text>
<rect x="1166" y="567" width="1" height="1" fill="#000" />
<text x="1169" y="565" font-size="10.2" fill="#000" textLength="5.08" lengthAdjust="spacingAndGlyphs" stroke="#000" stroke-width="0.3" class="ch">0</text>
<rect x="3" y="569" width="1" height="3" fill="#000" />
<text x="1.8" y="581" font-size="10.2" fill="#000" textLength="47.56" lengthAdjust="spacingAndGlyphs" stroke="#000" stroke-width="0.3" class="ch">6 Dec 2021</text>
<rect x="67" y="569" width="1" height="3" fill="#000" />
<text x="65.8" y="581" font-size="10.2" fill="#000" textLength="52.74" lengthAdjust="spacingAndGlyphs" stroke="#000" stroke-width="0.3" class="ch">15 Dec 2021</text>
<rect x="131" y="569" width="1" height="3" fill="#000" />
<text x="129.8" y="581" font-size="10.2" fill="#000" textLength="52.74" lengthAdjust="spacingAndGlyphs" stroke="#000" stroke-width="0.3" class="ch">24 Dec 2021</text>
<rect x="195" y="569" width="1" height="3" fill="#000" />
<text x="193.8" y="581" font-size="10.2" fill="#000" textLength="46.02" lengthAdjust="spacingAndGlyphs" stroke="#000" stroke-width="0.3" class="ch">3 Jan 2022</text>
<rect x="259" y="569" width="1" height="3" fill="#000" />
<text x="257.8" y="581" font-size="10.2" fill="#000" textLength="51.19" lengthAdjust="spacingAndGlyphs" stroke="#000" stroke-width="0.3" class="ch">12 Jan 2022</text>
<rect x="323" y="569" width="1" height="3" fill="#000" />
<text x="321.8" y="581" font-size="10.2" fill="#000" textLength="51.19" lengthAdjust="spacingAndGlyphs" stroke="#000" stroke-width="0.3" class="ch">21 Jan 2022</text>
<rect x="387" y="569" width="1" height="3" fill="#000" />
<text x="385.8" y="581" font-size="10.2" fill="#000" textLength="51.19" lengthAdjust="spacingAndGlyphs" stroke="#000" stroke-width="0.3" class="ch">31 Jan 2022</text>
<rect x="451" y="569" width="1" height="3" fill="#000" />
<text x="449.8" y="581" font-size="10.2" fill="#000" textLength="47.05" lengthAdjust="spacingAndGlyphs" stroke="#000" stroke-width="0.3" class="ch">9 Feb 2022</text>
<rect x="515" y="569" width="1" height="3" fill="#000" />
<text x="513.8" y="581" font-size="10.2" fill="#000" textLength="52.22" lengthAdjust="spacingAndGlyphs" stroke="#000" stroke-width="0.3" class="ch">18 Feb 2022</text>
<rect x="579" y="569" width="1" height="3" fill="#000" />
<text x="577.8" y="581" font-size="10.2" fill="#000" textLength="52.22" lengthAdjust="spacingAndGlyphs" stroke="#000" stroke-width="0.3" class="ch">28 Feb 2022</text>
<rect x="643" y="569" width="1" height="3" fill="#000" />
<text x="641.8" y="581" font-size="10.2" fill="#000" textLength="47.04" lengthAdjust="spacingAndGlyphs" stroke="#000" stroke-width="0.3" class="ch">9 Mar 2022</text>
<rect x="707" y="569" width="1" height="3" fill="#000" />
<text x="705.8" y="581" font-size="10.2" fill="#000" textLength="52.21" lengthAdjust="spacingAndGlyphs" stroke="#000" stroke-width="0.3" class="ch">18 Mar 2022</text>
<rect x="771" y="569" width="1" height="3" fill="#000" />
<text x="769.8" y="581" font-size="10.2" fill="#000" textLength="52.21" lengthAdjust="spacingAndGlyphs" stroke="#000" stroke-width="0.3" class="ch">28 Mar 2022</text>
<rect x="835" y="569" width="1" height="3" fill="#000" />
<text x="833.8" y="581" font-size="10.2" fill="#000" textLength="44.98" lengthAdjust="spacingAndGlyphs" stroke="#000" stroke-width="0.3" class="ch">6 Apr 2022</text>
<rect x="899" y="569" width="1" height="3" fill="#000" />
<text x="897.8" y="581" font-size="10.2" fill="#000" textLength="50.16" lengthAdjust="spacingAndGlyphs" stroke="#000" stroke-width="0.3" class="ch">15 Apr 2022</text>
<rect x="0" y="589" width="1205" height="1" fill="#e3e3e3" />
<rect x="0" y="591" width="1205" height="20" fill="#f0f0f0" />
<rect x="0" y="591" width="1205" height="1" fill="#000" />
<rect x="0" y="592" width="1205" height="1" fill="#fafafa" />
<rect x="0" y="611" width="1205" height="1" fill="#ffffff" />
<rect x="0" y="612" width="1205" height="1" fill="#f0f0f0" />
<rect x="0" y="613" width="1205" height="1" fill="#f5f5f5" />
<rect x="0" y="614" width="1205" height="1" fill="#d8d8d8" />
<rect x="0" y="615" width="1205" height="1" fill="#a0a0a0" />
<rect x="104" y="590" width="108" height="20" fill="#ffffff" />
<rect x="104" y="591" width="1" height="19" fill="#000" />
<rect x="211" y="591" width="1" height="19" fill="#000" />
<rect x="104" y="609" width="108" height="1" fill="#000" />
<rect x="103" y="593" width="1" height="18" fill="#ffffff" />
<rect x="320" y="594" width="1" height="14" fill="#646464" />
<rect x="428" y="594" width="1" height="14" fill="#646464" />
<rect x="536" y="594" width="1" height="14" fill="#646464" />
<rect x="648" y="594" width="1" height="14" fill="#646464" />
<rect x="756" y="594" width="1" height="14" fill="#646464" />
<rect x="836" y="594" width="1" height="14" fill="#646464" />
<rect x="924" y="594" width="1" height="14" fill="#646464" />
<rect x="1008" y="594" width="1" height="14" fill="#646464" />
<rect x="1088" y="594" width="1" height="14" fill="#646464" />
<rect x="1164" y="594" width="1" height="14" fill="#646464" />
<text x="14.5" y="606" font-size="12.5" fill="#6a6a6a" textLength="79.1" lengthAdjust="spacingAndGlyphs" class="tab">USDX,Weekly</text>
<text x="114.9" y="606" font-size="12.5" fill="#000" textLength="85.0" lengthAdjust="spacingAndGlyphs" class="tab">EURUSD-,Daily</text>
<text x="221.2" y="606" font-size="12.5" fill="#6a6a6a" textLength="88.1" lengthAdjust="spacingAndGlyphs" class="tab">AUDUSD-,Daily</text>
<text x="331.5" y="606" font-size="12.5" fill="#6a6a6a" textLength="84.7" lengthAdjust="spacingAndGlyphs" class="tab">USDCHF-,Daily</text>
<text x="439.0" y="606" font-size="12.5" fill="#6a6a6a" textLength="86.6" lengthAdjust="spacingAndGlyphs" class="tab">USDCAD-,Daily</text>
<text x="547.5" y="606" font-size="12.5" fill="#6a6a6a" textLength="88.7" lengthAdjust="spacingAndGlyphs" class="tab">USDCNH-,Daily</text>
<text x="657.8" y="606" font-size="12.5" fill="#6a6a6a" textLength="87.8" lengthAdjust="spacingAndGlyphs" class="tab">XAUUSD-,Daily</text>
<text x="766.2" y="606" font-size="12.5" fill="#6a6a6a" textLength="58.4" lengthAdjust="spacingAndGlyphs" class="tab">UKOil-,H4</text>
<text x="847.2" y="606" font-size="12.5" fill="#6a6a6a" textLength="65.5" lengthAdjust="spacingAndGlyphs" class="tab">DJ30-,Daily</text>
<text x="934.6" y="606" font-size="12.5" fill="#6a6a6a" textLength="62.0" lengthAdjust="spacingAndGlyphs" class="tab">UK100-,H1</text>
<text x="1019.2" y="606" font-size="12.5" fill="#6a6a6a" textLength="57.0" lengthAdjust="spacingAndGlyphs" class="tab">USOil-,H1</text>
<text x="1097.8" y="606" font-size="12.5" fill="#6a6a6a" textLength="55.2" lengthAdjust="spacingAndGlyphs" class="tab">HK50-,H1</text>
<rect x="1174" y="597" width="1" height="9" fill="#f6f3dc" />
<polygon points="1184,597 1184,604 1180.5,600.5" fill="#a0a0a0"/>
<polygon points="1200,597 1200,604 1203.5,600.5" fill="#000"/>
</svg>
</body></html>
